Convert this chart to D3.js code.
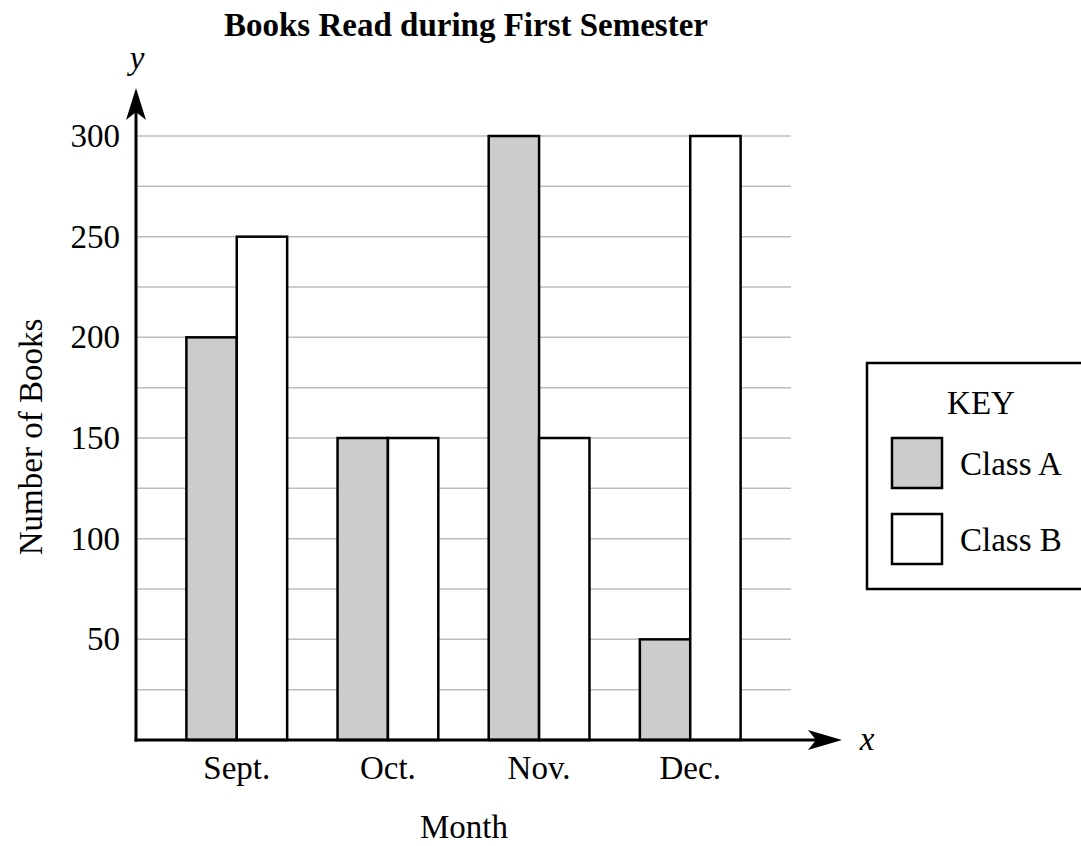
<!DOCTYPE html>
<html>
<head>
<meta charset="utf-8">
<script src="https://cdn.jsdelivr.net/npm/d3@7"></script>
<style>
  body { margin: 0; background: #fff; }
  svg { display: block; font-family: "Liberation Serif", "DejaVu Serif", serif; }
</style>
</head>
<body>
<svg id="chart" width="1081" height="846"></svg>
<script>
const months = ["Sept.", "Oct.", "Nov.", "Dec."];
const classA = [200, 150, 300, 50];
const classB = [250, 150, 150, 300];
const seriesNames = ["Class A", "Class B"];
const yTickValues = [50, 100, 150, 200, 250, 300];
const gridValues = [25, 50, 75, 100, 125, 150, 175, 200, 225, 250, 275, 300];

(function () {
const svg = d3.select("#chart");
const pLeft = 136, pRight = 791, pBottom = 740, pTop = 136;
const FS = 33;

const x = d3.scaleBand().domain(months).range([pLeft, pRight]).paddingInner(1/3).paddingOuter(1/3);
const x1 = d3.scaleBand().domain(seriesNames).range([0, x.bandwidth()]);
const y = d3.scaleLinear().domain([0, 300]).range([pBottom, pTop]);
const fills = { "Class A": "#cccccc", "Class B": "#ffffff" };

// Title
svg.append("text").attr("x", 466).attr("y", 36).attr("text-anchor", "middle")
  .attr("font-weight", "bold").attr("font-size", FS).text("Books Read during First Semester");

// Gridlines
svg.append("g").selectAll("line").data(gridValues).join("line")
  .attr("x1", pLeft).attr("x2", pRight)
  .attr("y1", d => y(d)).attr("y2", d => y(d))
  .attr("stroke", "#bdbdbd").attr("stroke-width", 1.5);

// Bars
const data = months.map((m, i) => ({ month: m, values: [
  { key: "Class A", value: classA[i] }, { key: "Class B", value: classB[i] }] }));
svg.append("g").selectAll("g").data(data).join("g")
  .attr("transform", d => `translate(${x(d.month)},0)`)
  .selectAll("rect").data(d => d.values).join("rect")
  .attr("x", d => x1(d.key)).attr("width", x1.bandwidth())
  .attr("y", d => y(d.value)).attr("height", d => y(0) - y(d.value))
  .attr("fill", d => fills[d.key]).attr("stroke", "#000").attr("stroke-width", 2.5);

// Y tick labels
const yAxis = svg.append("g").attr("transform", `translate(${pLeft},0)`)
  .call(d3.axisLeft(y).tickValues(yTickValues).tickSize(0).tickPadding(16));
yAxis.select(".domain").remove();
yAxis.attr("font-size", FS).attr("font-family", "Liberation Serif");
yAxis.selectAll("text").attr("fill", "#000");

// X tick labels
const xAxis = svg.append("g").attr("transform", `translate(0,${pBottom})`)
  .call(d3.axisBottom(x).tickSize(0).tickPadding(16));
xAxis.select(".domain").remove();
xAxis.attr("font-size", FS).attr("font-family", "Liberation Serif");
xAxis.selectAll("text").attr("fill", "#000");

// Axes lines with arrows
svg.append("line").attr("x1", pLeft).attr("x2", pLeft).attr("y1", pBottom + 1.5).attr("y2", 108)
  .attr("stroke", "#000").attr("stroke-width", 3);
svg.append("line").attr("x1", pLeft - 1.5).attr("x2", 820).attr("y1", pBottom).attr("y2", pBottom)
  .attr("stroke", "#000").attr("stroke-width", 3);
svg.append("path").attr("d", `M${pLeft},88 L${pLeft + 10},120 L${pLeft},112 L${pLeft - 10},120 Z`).attr("fill", "#000");
svg.append("path").attr("d", `M842,${pBottom} L808,${pBottom - 10} L816,${pBottom} L808,${pBottom + 10} Z`).attr("fill", "#000");

// Axis variable labels
svg.append("text").attr("x", 137).attr("y", 69).attr("text-anchor", "middle")
  .attr("font-style", "italic").attr("font-size", FS).text("y");
svg.append("text").attr("x", 867).attr("y", 750).attr("text-anchor", "middle")
  .attr("font-style", "italic").attr("font-size", FS).text("x");

// Axis titles
svg.append("text").attr("transform", "translate(42,437) rotate(-90)").attr("text-anchor", "middle")
  .attr("font-size", FS).text("Number of Books");
svg.append("text").attr("x", 464).attr("y", 838).attr("text-anchor", "middle")
  .attr("font-size", FS).text("Month");

// Legend
const lg = svg.append("g");
lg.append("rect").attr("x", 867).attr("y", 363).attr("width", 230).attr("height", 226)
  .attr("fill", "#fff").attr("stroke", "#000").attr("stroke-width", 2.5);
lg.append("text").attr("x", 981).attr("y", 414).attr("text-anchor", "middle")
  .attr("font-size", FS).text("KEY");
seriesNames.forEach((s, i) => {
  const yy = 438 + i * 76;
  lg.append("rect").attr("x", 892).attr("y", yy).attr("width", 50).attr("height", 50)
    .attr("fill", fills[s]).attr("stroke", "#000").attr("stroke-width", 2.5);
  lg.append("text").attr("x", 960).attr("y", yy + 37).attr("font-size", FS).text(s);
});
})();
</script>
</body>
</html>
